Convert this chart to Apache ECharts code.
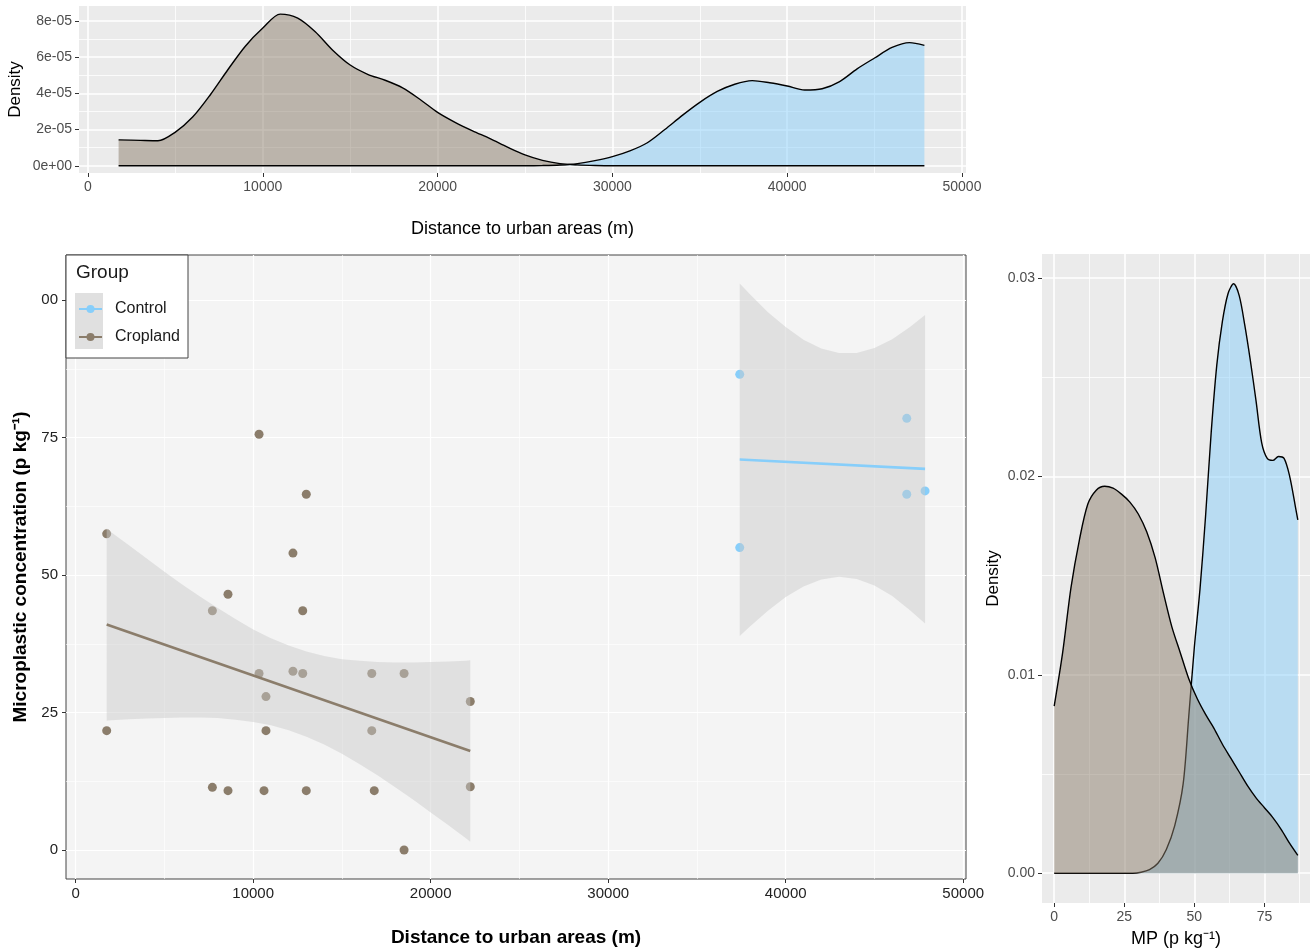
<!DOCTYPE html>
<html>
<head>
<meta charset="utf-8">
<script src="https://cdn.jsdelivr.net/npm/echarts@6.0.0/dist/echarts.min.js"></script>
<style>
html,body{margin:0;padding:0;background:#fff;}
#chart{width:1310px;height:952px;}
</style>
</head>
<body>
<div id="chart"></div>
<script>
var FONT = '"Liberation Sans", Arial, Helvetica, sans-serif';
var CONTROL = '#87CEFA', CROP = '#8B7D6B';

// top panel: density of distance to urban areas
var topDist = [1750, 3000, 4000, 5000, 6000, 7000, 8000, 9000, 10000, 11000, 12000, 13000, 14000, 15000, 16000, 17000, 18000, 19000, 20000, 21000, 22000, 23000, 24000, 25000, 26000, 27000, 28000, 29000, 30000, 31000, 32000, 33000, 34000, 35000, 36000, 37000, 38000, 39000, 40000, 41000, 42000, 43000, 44000, 45000, 46000, 47000, 47850];
var topCropDens = [1.43e-5, 1.40e-5, 1.38e-5, 1.86e-5, 2.70e-5, 3.92e-5, 5.30e-5, 6.60e-5, 7.60e-5, 8.37e-5, 8.15e-5, 7.40e-5, 6.38e-5, 5.56e-5, 5.05e-5, 4.72e-5, 4.30e-5, 3.66e-5, 2.95e-5, 2.40e-5, 1.93e-5, 1.50e-5, 1.03e-5, 0.60e-5, 0.30e-5, 0.12e-5, 0.05e-5, 0.015e-5, 0, 0, 0, 0, 0, 0, 0, 0, 0, 0, 0, 0, 0, 0, 0, 0, 0, 0, 0];
var topCtrlDens = [0, 0, 0, 0, 0, 0, 0, 0, 0, 0, 0, 0, 0, 0, 0, 0, 0, 0, 0, 0, 0, 0, 0, 0, 0.01e-5, 0.04e-5, 0.12e-5, 0.28e-5, 0.50e-5, 0.82e-5, 1.27e-5, 2.00e-5, 2.78e-5, 3.50e-5, 4.10e-5, 4.50e-5, 4.70e-5, 4.58e-5, 4.40e-5, 4.18e-5, 4.25e-5, 4.65e-5, 5.35e-5, 5.95e-5, 6.53e-5, 6.80e-5, 6.65e-5];

// right panel: density of MP concentration
var mpCropX = [0, 3, 6, 9, 12, 15, 18, 21, 24, 27, 30, 33, 36, 39, 42, 45, 48, 51, 54, 57, 60, 63, 66, 69, 72, 75, 78, 81, 84, 86.9];
var mpCropDens = [0.00842, 0.0111, 0.0144, 0.0168, 0.0186, 0.0193, 0.0195, 0.0194, 0.0191, 0.0187, 0.0181, 0.0172, 0.0159, 0.0141, 0.0124, 0.0111, 0.0098, 0.0088, 0.0080, 0.0073, 0.0065, 0.0058, 0.0051, 0.0044, 0.0038, 0.0033, 0.0028, 0.0022, 0.0015, 0.0009];
var mpCtrlX = [0, 28, 31, 34, 37, 40, 43, 46, 48, 50, 52, 54, 56, 58, 60, 62, 64, 66, 68, 70, 72, 74, 76, 78, 80, 82, 84, 86, 86.9];
var mpCtrlDens = [0, 0, 0.00005, 0.00018, 0.0005, 0.0012, 0.0024, 0.0045, 0.0079, 0.0114, 0.0143, 0.0180, 0.0222, 0.0256, 0.0278, 0.0292, 0.0297, 0.0291, 0.0276, 0.0258, 0.0238, 0.0217, 0.0209, 0.0208, 0.0210, 0.0209, 0.0200, 0.0185, 0.0178];

// main panel: samples
var cropDist = [1746, 1746, 7700, 7700, 8580, 8580, 10330, 10330, 10720, 10720, 10610, 12240, 12240, 12790, 12790, 12990, 12990, 16680, 16680, 16820, 18500, 18500, 22230, 22230];
var cropMP = [21.7, 57.5, 43.5, 11.4, 46.5, 10.8, 75.6, 32.1, 27.9, 21.7, 10.8, 54.0, 32.5, 43.5, 32.1, 64.7, 10.8, 32.1, 21.7, 10.8, 32.1, 0, 27.0, 11.5];
var ctrlDist = [37410, 37410, 46820, 46820, 47850];
var ctrlMP = [86.5, 55.0, 78.5, 64.7, 65.3];

// linear fits and their confidence bands
var cropFitX = [1746, 22230], cropFitY = [41.0, 18.0];
var ctrlFitX = [37410, 47850], ctrlFitY = [71.0, 69.3];
var cropBandX = [1746, 2000, 3000, 4000, 5000, 6000, 7000, 8000, 9000, 10000, 11000, 12000, 13000, 14000, 15000, 16000, 17000, 18000, 19000, 20000, 21000, 22000, 22230];
var cropLower = [23.5, 23.6, 23.8, 23.9, 24.0, 24.1, 24.1, 24.0, 23.7, 23.3, 22.7, 21.8, 20.6, 19.2, 17.5, 15.6, 13.6, 11.4, 9.2, 6.8, 4.5, 2.1, 1.5];
var cropUpper = [58.5, 57.8, 55.4, 53.0, 50.6, 48.3, 46.1, 44.0, 42.0, 40.1, 38.5, 37.2, 36.1, 35.3, 34.7, 34.4, 34.2, 34.1, 34.1, 34.2, 34.3, 34.4, 34.5];
var ctrlBandX = [37410, 38000, 39000, 40000, 41000, 42000, 43000, 44000, 45000, 46000, 47000, 47850];
var ctrlLower = [38.9, 40.7, 43.5, 46.0, 47.9, 49.2, 49.7, 49.3, 48.1, 46.2, 43.6, 41.2];
var ctrlUpper = [103.0, 101.0, 97.8, 95.1, 92.8, 91.2, 90.4, 90.4, 91.3, 92.9, 95.1, 97.3];

// tick values
var distTicks = [0, 10000, 20000, 30000, 40000, 50000];
var distMinor = [5000, 15000, 25000, 35000, 45000];
var topDensTicks = [0, 2e-5, 4e-5, 6e-5, 8e-5];
var topDensMinor = [1e-5, 3e-5, 5e-5, 7e-5];
var mpTicks = [0, 25, 50, 75, 100];
var mpMinor = [12.5, 37.5, 62.5, 87.5];
var mpDensTicks = [0, 0.01, 0.02, 0.03];
var mpDensMinor = [0.005, 0.015, 0.025];

function pairs(xs, ys) {
    return xs.map(function (x, i) { return [x, ys[i]]; });
}

function axis(grid, min, max, ticks, major, lab) {
    lab = lab || {};
    return {
        type: 'value', gridIndex: grid, min: min, max: max,
        position: lab.position,
        axisLine: {show: false, onZero: false},
        axisTick: {show: major, customValues: ticks, length: 4, lineStyle: {color: '#333', width: 1}},
        axisLabel: {show: major, customValues: ticks, margin: lab.margin || 7, fontSize: lab.size || 14,
            color: lab.color || '#4D4D4D', fontFamily: FONT,
            formatter: lab.formatter || function (v) { return String(v); }},
        splitLine: {show: true, lineStyle: {color: '#fff', width: major ? (lab.gw || 1.6) : (lab.mw || 0.8)}},
        minorTick: {show: false}, minorSplitLine: {show: false},
        name: major ? lab.name : '', nameLocation: 'middle', nameGap: lab.gap,
        nameMoveOverlap: false,
        nameTextStyle: {fontSize: lab.nsize || 17, color: '#000', fontFamily: FONT, fontWeight: lab.bold ? 'bold' : 'normal'}
    };
}

function density(name, xi, xs, ys, fill, z) {
    return {
        type: 'line', name: name, xAxisIndex: xi, yAxisIndex: xi,
        data: pairs(xs, ys), smooth: 0.3, symbol: 'none', silent: true, z: z,
        lineStyle: {color: '#000', width: 1.4},
        areaStyle: {color: fill, opacity: 1}
    };
}

// confidence band drawn as one polygon through the axis scales
function ribbon(name, xs, lo, hi) {
    return {
        type: 'custom', name: name, xAxisIndex: 2, yAxisIndex: 2, silent: true, z: 3,
        data: xs.map(function (x, i) { return [x, lo[i], hi[i]]; }),
        encode: {x: 0, y: [1, 2]},
        renderItem: function (params, api) {
            if (params.dataIndex !== 0) return null;
            var pts = [];
            for (var i = 0; i < xs.length; i++) pts.push(api.coord([xs[i], hi[i]]));
            for (var j = xs.length - 1; j >= 0; j--) pts.push(api.coord([xs[j], lo[j]]));
            return {type: 'polygon', shape: {points: pts}, style: {fill: 'rgba(201,201,201,0.47)'}};
        }
    };
}

var chart = echarts.init(document.getElementById('chart'), null, {renderer: 'canvas'});

var option = {
    animation: false,
    backgroundColor: '#fff',
    textStyle: {fontFamily: FONT},
    grid: [
        {left: 79, top: 6, width: 887, height: 167, show: true, backgroundColor: '#EBEBEB', borderWidth: 0, outerBoundsMode: 'none'},
        {left: 66, top: 255, width: 900, height: 624, show: true, backgroundColor: '#F4F4F4', borderColor: '#444', borderWidth: 1, outerBoundsMode: 'none'},
        {left: 1042, top: 254, width: 268, height: 649, show: true, backgroundColor: '#EBEBEB', borderWidth: 0, outerBoundsMode: 'none'}
    ],
    xAxis: [
        axis(0, -515, 50230, distTicks, true, {position: 'bottom', name: 'Distance to urban areas (m)', gap: 47, nsize: 18, size: 14}),
        axis(0, -515, 50230, distMinor, false, {position: 'bottom'}),
        axis(1, -546, 50157, distTicks, true, {position: 'bottom', name: 'Distance to urban areas (m)', gap: 49, nsize: 19, bold: true, size: 15, color: '#222', gw: 1.2, mw: 0.6}),
        axis(1, -546, 50157, distMinor, false, {position: 'bottom', mw: 0.6}),
        axis(2, -4.35, 91.25, mpTicks.slice(0, 4), true, {position: 'bottom', name: 'MP (p kg⁻¹)', gap: 27, nsize: 18, size: 14}),
        axis(2, -4.35, 91.25, mpMinor, false, {position: 'bottom'})
    ],
    yAxis: [
        axis(0, -4.0e-6, 8.82e-5, topDensTicks, true, {position: 'left', name: 'Density', gap: 55, size: 14,
            formatter: function (v) { return v === 0 ? '0e+00' : v.toExponential(0).replace('e-', 'e-0'); }}),
        axis(0, -4.0e-6, 8.82e-5, topDensMinor, false, {position: 'left'}),
        axis(1, -5.27, 108.2, mpTicks, true, {position: 'left', name: 'Microplastic concentration (p kg⁻¹)', gap: 36, nsize: 19, bold: true, size: 15, color: '#222', margin: 8, gw: 1.2, mw: 0.6,
            formatter: function (v) { return v === 100 ? '00' : String(v); }}),
        axis(1, -5.27, 108.2, mpMinor, false, {position: 'left', mw: 0.6}),
        axis(2, -0.0015, 0.0312, mpDensTicks, true, {position: 'left', name: 'Density', gap: 40, size: 14,
            formatter: function (v) { return v.toFixed(2); }}),
        axis(2, -0.0015, 0.0312, mpDensMinor, false, {position: 'left'})
    ],
    legend: {
        data: ['Control', 'Cropland'], orient: 'vertical', left: 78, top: 301,
        itemWidth: 23, itemHeight: 10, itemGap: 12, selectedMode: false, z: 10, padding: 0,
        textStyle: {fontSize: 16, color: '#1a1a1a', fontFamily: FONT, padding: [0, 0, 0, 8]}
    },
    graphic: [
        {type: 'rect', z: 8, shape: {x: 66, y: 255, width: 122, height: 103}, style: {fill: '#fff', stroke: '#444', lineWidth: 1}},
        {type: 'rect', z: 9, shape: {x: 75, y: 293, width: 28, height: 56}, style: {fill: '#E0E0E0'}},
        {type: 'text', z: 9, x: 76, y: 273, style: {text: 'Group', fontSize: 19, fill: '#1a1a1a', fontFamily: FONT, verticalAlign: 'middle'}}
    ],
    series: [
        {type: 'line', name: 'Control', xAxisIndex: 2, yAxisIndex: 2, data: pairs(ctrlFitX, ctrlFitY),
            symbol: 'circle', showSymbol: false, z: 5, silent: true,
            lineStyle: {color: CONTROL, width: 2.6}, itemStyle: {color: CONTROL}},
        {type: 'line', name: 'Cropland', xAxisIndex: 2, yAxisIndex: 2, data: pairs(cropFitX, cropFitY),
            symbol: 'circle', showSymbol: false, z: 5, silent: true,
            lineStyle: {color: CROP, width: 2.6}, itemStyle: {color: CROP}},
        {type: 'scatter', name: 'Control', xAxisIndex: 2, yAxisIndex: 2, data: pairs(ctrlDist, ctrlMP),
            symbolSize: 9, z: 2, silent: true, itemStyle: {color: CONTROL, opacity: 1}},
        {type: 'scatter', name: 'Cropland', xAxisIndex: 2, yAxisIndex: 2, data: pairs(cropDist, cropMP),
            symbolSize: 9, z: 2, silent: true, itemStyle: {color: CROP, opacity: 1}},
        ribbon('cropBand', cropBandX, cropLower, cropUpper),
        ribbon('ctrlBand', ctrlBandX, ctrlLower, ctrlUpper),
        density('ctrlTop', 0, topDist, topCtrlDens, 'rgba(135,206,250,0.5)', 2),
        density('cropTop', 0, topDist, topCropDens, 'rgba(139,125,107,0.5)', 2),
        density('ctrlMP', 4, mpCtrlX, mpCtrlDens, 'rgba(135,206,250,0.5)', 2),
        density('cropMP', 4, mpCropX, mpCropDens, 'rgba(139,125,107,0.5)', 3)
    ]
};

chart.setOption(option);
</script>
</body>
</html>
